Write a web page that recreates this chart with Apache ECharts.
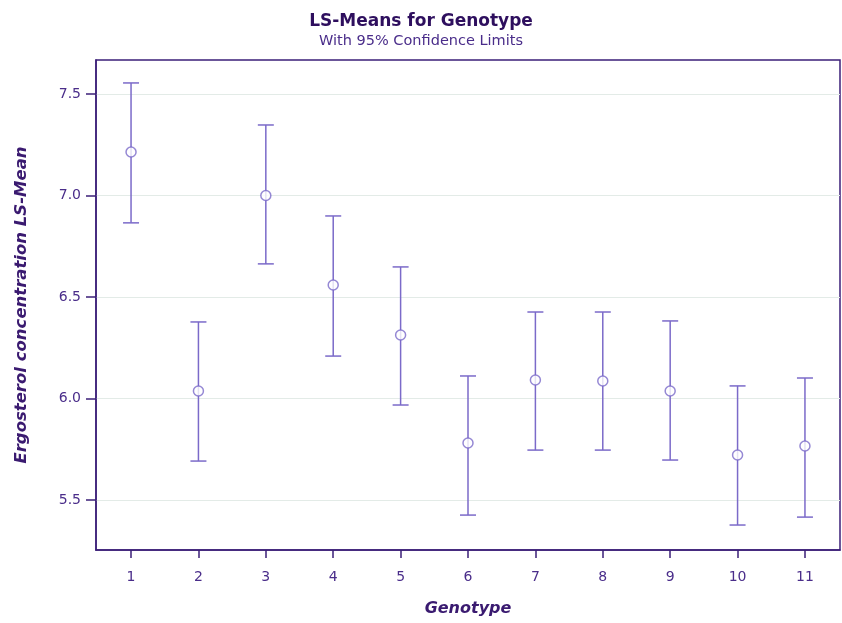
<!DOCTYPE html>
<html><head><meta charset="utf-8">
<script src="https://cdn.jsdelivr.net/npm/echarts@6/dist/echarts.min.js"></script>
<style>html,body{margin:0;padding:0;background:#fff}#c{width:842px;height:623px}</style>
</head><body><div id="c"></div>
<script>
const genotypes = [1,2,3,4,5,6,7,8,9,10,11];
const lsMeans = [7.214, 6.037, 7.000, 6.559, 6.313, 5.781, 6.091, 6.086, 6.037, 5.722, 5.766];
const lowerCL = [6.865, 5.692, 6.663, 6.209, 5.968, 5.426, 5.746, 5.746, 5.697, 5.377, 5.416];
const upperCL = [7.554, 6.377, 7.347, 6.899, 6.648, 6.111, 6.426, 6.426, 6.382, 6.062, 6.101];
const yTicks = [5.5, 6.0, 6.5, 7.0, 7.5];

const frame = '#3b1f78', bar = '#7b6ac9', txt = '#4a2d8a';
const font = 'DejaVu Sans';
const chart = echarts.init(document.getElementById('c'));
chart.setOption({
  animation: false,
  title: {
    text: 'LS-Means for Genotype', subtext: 'With 95% Confidence Limits',
    left: 'center', top: 8, itemGap: 4,
    textStyle: {fontFamily: font, fontSize: 17, fontWeight: 'bold', color: '#2e0f5e'},
    subtextStyle: {fontFamily: font, fontSize: 14.5, color: '#4a2d8a'}
  },
  grid: {left: 96, right: 2, top: 60, bottom: 73, show: true, borderColor: frame, borderWidth: 1.5, backgroundColor: 'transparent'},
  xAxis: {
    type: 'value', min: 0.48, max: 11.52,
    name: 'Genotype', nameLocation: 'middle', nameGap: 51,
    nameTextStyle: {fontFamily: font, fontSize: 16, fontWeight: 'bold', fontStyle: 'italic', color: '#3a1a70'},
    axisLine: {show: true, lineStyle: {color: frame, width: 1.5}},
    axisTick: {show: true, length: 8, customValues: genotypes, lineStyle: {color: frame, width: 1.5}},
    axisLabel: {customValues: genotypes, margin: 20, fontFamily: font, fontSize: 14, color: txt},
    splitLine: {show: false}
  },
  yAxis: {
    type: 'value', min: 5.254, max: 7.667,
    name: 'Ergosterol concentration LS-Mean', nameLocation: 'middle', nameGap: 66,
    nameTextStyle: {fontFamily: font, fontSize: 16.5, fontWeight: 'bold', fontStyle: 'italic', color: '#3a1a70'},
    axisLine: {show: true, lineStyle: {color: frame, width: 1.5}},
    axisTick: {show: true, length: 10, customValues: yTicks, lineStyle: {color: frame, width: 1.5}},
    axisLabel: {customValues: yTicks, margin: 15, fontFamily: font, fontSize: 14, color: txt, formatter: v => v.toFixed(1)},
    splitLine: {show: true, lineStyle: {color: '#e3ebe7', width: 1}}
  },
  series: [
    {
      type: 'custom',
      data: genotypes.map((g, i) => [g, lowerCL[i], upperCL[i]]),
      encode: {x: 0, y: [1, 2]},
      renderItem: function (params, api) {
        const x = api.value(0);
        const lo = api.coord([x, api.value(1)]);
        const hi = api.coord([x, api.value(2)]);
        const w = 8;
        const st = {stroke: bar, lineWidth: 1.5, fill: null};
        return {type: 'group', children: [
          {type: 'line', shape: {x1: lo[0], y1: lo[1], x2: hi[0], y2: hi[1]}, style: st},
          {type: 'line', shape: {x1: lo[0]-w, y1: lo[1], x2: lo[0]+w, y2: lo[1]}, style: st},
          {type: 'line', shape: {x1: hi[0]-w, y1: hi[1], x2: hi[0]+w, y2: hi[1]}, style: st}
        ]};
      },
      z: 2
    },
    {
      type: 'scatter',
      data: genotypes.map((g, i) => [g, lsMeans[i]]),
      symbol: 'circle', symbolSize: 10,
      itemStyle: {color: '#fff', borderColor: bar, borderWidth: 1.5},
      z: 3
    }
  ]
});
</script></body></html>
